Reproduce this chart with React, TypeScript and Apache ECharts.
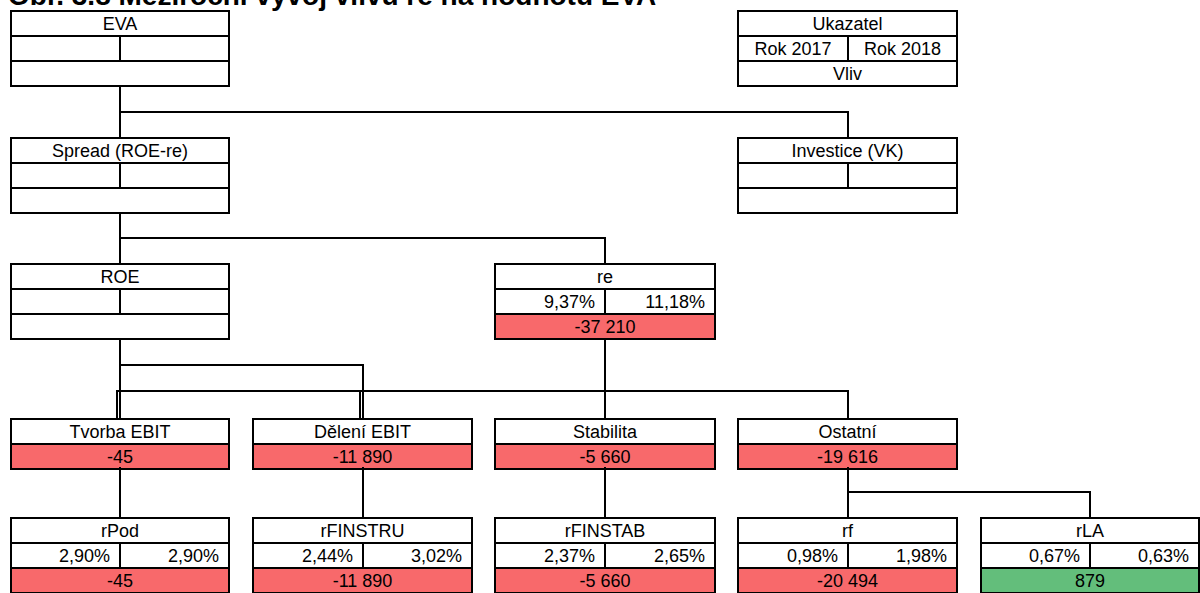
import React, { useEffect, useRef } from "react";
import * as echarts from "echarts";

// ---- data ----
const titleText = "Obr. 3.8 Meziroční vývoj vlivu re na hodnotu EVA";
const legendLabels = ["Ukazatel", "Rok 2017", "Rok 2018", "Vliv"];
const nodeNames = [
  "EVA", "Spread (ROE-re)", "Investice (VK)", "ROE", "re",
  "Tvorba EBIT", "Dělení EBIT", "Stabilita", "Ostatní",
  "rPod", "rFINSTRU", "rFINSTAB", "rf", "rLA",
];
const nodeKinds = [
  "full", "full", "full", "full", "full",
  "impact", "impact", "impact", "impact",
  "full", "full", "full", "full", "full",
];
const rate2017: (number | null)[] = [null, null, null, null, 9.37, null, null, null, null, 2.9, 2.44, 2.37, 0.98, 0.67];
const rate2018: (number | null)[] = [null, null, null, null, 11.18, null, null, null, null, 2.9, 3.02, 2.65, 1.98, 0.63];
const impact: (number | null)[] = [null, null, null, null, -37210, -45, -11890, -5660, -19616, -45, -11890, -5660, -20494, 879];

// ---- layout (positions only) ----
const colLeft = [11, 253, 495, 738, 981];
const colRight = [229, 472, 715, 957, 1199];
const colMid = [120, 363, 605, 848, 1090];
const levelTop = [11, 138, 264, 419, 518];
const nodePos: [number, number][] = [
  [0, 0], [0, 1], [3, 1], [0, 2], [2, 2],
  [0, 3], [1, 3], [2, 3], [3, 3],
  [0, 4], [1, 4], [2, 4], [3, 4], [4, 4],
];
const ROW = 25;
const RED = "#F8696B";
const GREEN = "#63BE7B";
const FONT = '18px "Liberation Sans", Arial, sans-serif';

const fmtPct = (v: number) => v.toFixed(2).replace(".", ",") + "%";
const fmtNum = (v: number) => {
  const s = Math.abs(v).toString().replace(/\B(?=(\d{3})+(?!\d))/g, " ");
  return (v < 0 ? "-" : "") + s;
};

function text(x: number, y: number, t: string, align: string) {
  return {
    type: "text",
    z: 10,
    style: { x, y, text: t, font: FONT, fill: "#000", textAlign: align, textVerticalAlign: "middle" },
  };
}

function box(col: number, top: number, kind: string, header: string, a: string, b: string, c: string, fill: string, center: boolean) {
  const l = colLeft[col], r = colRight[col], m = colMid[col];
  const els: any[] = [];
  const rows = kind === "full" ? 3 : 2;
  const h = rows * ROW;
  const valTop = top + (rows - 1) * ROW;
  if (fill) {
    els.push({ type: "rect", z: 1, shape: { x: l, y: valTop, width: r - l, height: ROW }, style: { fill } });
  }
  els.push({ type: "rect", z: 5, shape: { x: l, y: top, width: r - l, height: h }, style: { fill: "none", stroke: "#000", lineWidth: 2 } });
  for (let i = 1; i < rows; i++) {
    els.push({ type: "line", z: 5, shape: { x1: l, y1: top + i * ROW, x2: r, y2: top + i * ROW }, style: { stroke: "#000", lineWidth: 2 } });
  }
  els.push(text((l + r) / 2, top + ROW / 2 + 0.5, header, "center"));
  if (kind === "full") {
    els.push({ type: "line", z: 5, shape: { x1: m, y1: top + ROW, x2: m, y2: top + 2 * ROW }, style: { stroke: "#000", lineWidth: 2 } });
    if (center) {
      if (a) els.push(text((l + m) / 2, top + ROW * 1.5 + 0.5, a, "center"));
      if (b) els.push(text((m + r) / 2, top + ROW * 1.5 + 0.5, b, "center"));
    } else {
      if (a) els.push(text(m - 10, top + ROW * 1.5 + 0.5, a, "right"));
      if (b) els.push(text(r - 10, top + ROW * 1.5 + 0.5, b, "right"));
    }
  }
  if (c) els.push(text((l + r) / 2, valTop + ROW / 2 + 0.5, c, "center"));
  return els;
}

const connectors: number[][][] = [
  [[120, 87], [120, 112], [848, 112], [848, 138]],
  [[120, 112], [120, 138]],
  [[120, 213], [120, 238], [605, 238], [605, 264]],
  [[120, 238], [120, 264]],
  [[120, 340], [120, 419]],
  [[120, 365], [363, 365], [363, 419]],
  [[605, 340], [605, 419]],
  [[117, 419], [117, 391], [848, 391], [848, 419]],
  [[360, 391], [360, 419]],
  [[120, 467], [120, 518]],
  [[363, 467], [363, 518]],
  [[605, 467], [605, 518]],
  [[848, 467], [848, 518]],
  [[848, 492], [1090, 492], [1090, 518]],
];

export default function App() {
  const ref = useRef<HTMLDivElement>(null);
  useEffect(() => {
    if (!ref.current) return;
    const chart = echarts.init(ref.current, null, { renderer: "svg" });
    const els: any[] = [];
    els.push({
      type: "text",
      z: 10,
      style: { x: 8, y: -5, text: titleText, font: 'bold 28px "Liberation Sans", Arial, sans-serif', fill: "#000", textAlign: "left", textVerticalAlign: "middle" },
    });
    connectors.forEach((pts) => {
      els.push({ type: "polyline", z: 2, shape: { points: pts }, style: { stroke: "#000", lineWidth: 2, fill: "none" } });
    });
    nodeNames.forEach((name, i) => {
      const [col, lvl] = nodePos[i];
      const a = rate2017[i] != null ? fmtPct(rate2017[i] as number) : "";
      const b = rate2018[i] != null ? fmtPct(rate2018[i] as number) : "";
      const v = impact[i];
      const c = v != null ? fmtNum(v) : "";
      const fill = v == null ? "" : v < 0 ? RED : GREEN;
      els.push(...box(col, levelTop[lvl], nodeKinds[i], name, a, b, c, fill, false));
    });
    els.push(...box(3, levelTop[0], "full", legendLabels[0], legendLabels[1], legendLabels[2], legendLabels[3], "", true));
    chart.setOption({ animation: false, graphic: { elements: els } });
    return () => chart.dispose();
  }, []);
  return (
    <div
      ref={ref}
      style={{ position: "absolute", left: 0, top: 0, width: 1200, height: 593, background: "#fff" }}
    />
  );
}
